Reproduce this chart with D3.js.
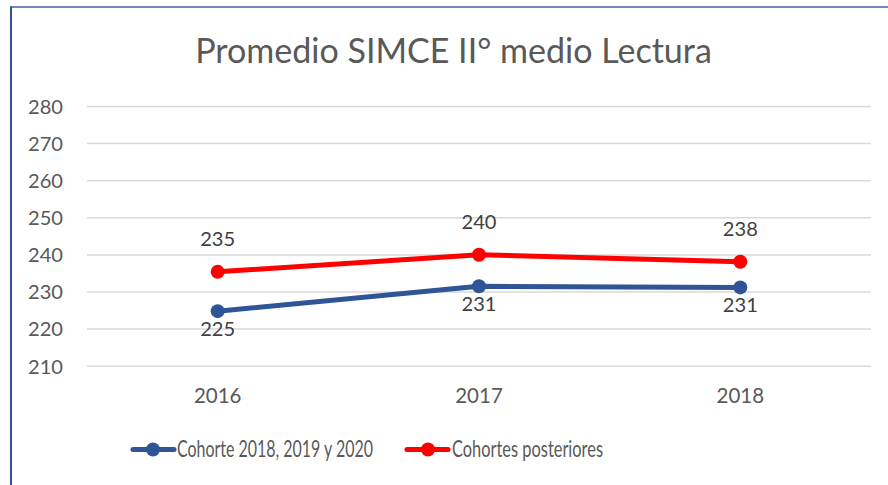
<!DOCTYPE html>
<html><head><meta charset="utf-8">
<script src="https://cdn.jsdelivr.net/npm/d3@7"></script>
<style>html,body{margin:0;padding:0;background:#fff;}svg{display:block;}</style>
</head><body>
<svg id="c" width="888" height="485"></svg>
<script>
const categories = ["2016", "2017", "2018"];
const cohorte = [224.7, 231.4, 231.1];
const posteriores = [235.3, 239.9, 238.0];
const cohorteLabels = ["225", "231", "231"];
const posterioresLabels = ["235", "240", "238"];
const yTicks = [210, 220, 230, 240, 250, 260, 270, 280];
const seriesNames = ["Cohorte 2018, 2019 y 2020", "Cohortes posteriores"];
const titleText = "Promedio SIMCE II° medio Lectura";

const FONT = "Lato, 'Open Sans', sans-serif";
const svg = d3.select("#c");
svg.append("rect").attr("width", 888).attr("height", 485).attr("fill", "#fff");

// fit font size to target width
function fit(sel, target) {
  sel.attr("font-size", 20);
  const w = sel.node().getComputedTextLength();
  sel.attr("font-size", 20 * target / w);
  return sel;
}

// border
svg.append("line").attr("x1", 11).attr("x2", 888).attr("y1", 7).attr("y2", 7)
  .attr("stroke", "#3E62A3").attr("stroke-width", 1.5);
svg.append("line").attr("x1", 11).attr("x2", 11).attr("y1", 6.3).attr("y2", 485)
  .attr("stroke", "#2F5597").attr("stroke-width", 2);

const x = d3.scaleBand().domain(categories).range([87, 871]);
const cx = d => x(d) + x.bandwidth() / 2;
const y = d3.scaleLinear().domain([210, 280]).range([365.7, 106]);

// y axis with gridlines
const yAxis = svg.append("g").attr("transform", "translate(87,0)")
  .call(d3.axisLeft(y).tickValues(yTicks).tickSize(-784).tickPadding(24).tickFormat(d3.format("d")));
yAxis.select(".domain").remove();
yAxis.selectAll(".tick line").attr("stroke", "#D9D9D9").attr("stroke-width", 1.5);
yAxis.selectAll(".tick text").attr("fill", "#595959").attr("font-family", FONT)
  .attr("dy", null).attr("y", 7.3).each(function () { fit(d3.select(this), 35); });

// x axis
const xAxis = svg.append("g").attr("transform", "translate(0,365.7)")
  .call(d3.axisBottom(x).tickSize(0).tickPadding(0));
xAxis.select(".domain").remove();
xAxis.selectAll(".tick text").attr("fill", "#595959").attr("font-family", FONT)
  .attr("dy", null).attr("y", 37.6).each(function () { fit(d3.select(this), 47.6); });

// title
fit(svg.append("text").attr("x", 453.5).attr("y", 63.3).attr("text-anchor", "middle")
  .attr("fill", "#595959").attr("font-family", FONT).text(titleText), 517);

const series = [
  { name: seriesNames[0], values: cohorte, labels: cohorteLabels, color: "#2F5597", below: true },
  { name: seriesNames[1], values: posteriores, labels: posterioresLabels, color: "#FF0000", below: false }
];

const line = d3.line().x((d, i) => cx(categories[i])).y(d => y(d));

series.forEach(s => {
  svg.append("path").datum(s.values).attr("d", line).attr("fill", "none")
    .attr("stroke", s.color).attr("stroke-width", 5).attr("stroke-linejoin", "round");
  svg.selectAll(null).data(s.values).enter().append("circle")
    .attr("cx", (d, i) => cx(categories[i])).attr("cy", d => y(d)).attr("r", 7)
    .attr("fill", s.color);
  svg.selectAll(null).data(s.values).enter().append("text")
    .attr("x", (d, i) => cx(categories[i]))
    .attr("y", d => s.below ? y(d) + 24.5 : y(d) - 25.6)
    .attr("text-anchor", "middle").attr("fill", "#404040").attr("font-family", FONT)
    .text((d, i) => s.labels[i])
    .each(function () { fit(d3.select(this), 35); });
});

// legend
const legendPos = [{ x1: 133, x2: 174, m: 153, tx: 177, tw: 196 }, { x1: 407, x2: 448, m: 428, tx: 452, tw: 151 }];
series.forEach((s, i) => {
  const p = legendPos[i];
  const ly = 449.5;
  svg.append("line").attr("x1", p.x1).attr("x2", p.x2).attr("y1", ly).attr("y2", ly)
    .attr("stroke", s.color).attr("stroke-width", 5).attr("stroke-linecap", "round");
  svg.append("circle").attr("cx", p.m).attr("cy", ly).attr("r", 7).attr("fill", s.color);
  svg.append("text").attr("x", p.tx).attr("y", 457.3).attr("fill", "#595959")
    .attr("font-family", FONT).attr("font-size", 22.5)
    .attr("textLength", p.tw).attr("lengthAdjust", "spacingAndGlyphs").text(s.name);
});
</script>
</body></html>
